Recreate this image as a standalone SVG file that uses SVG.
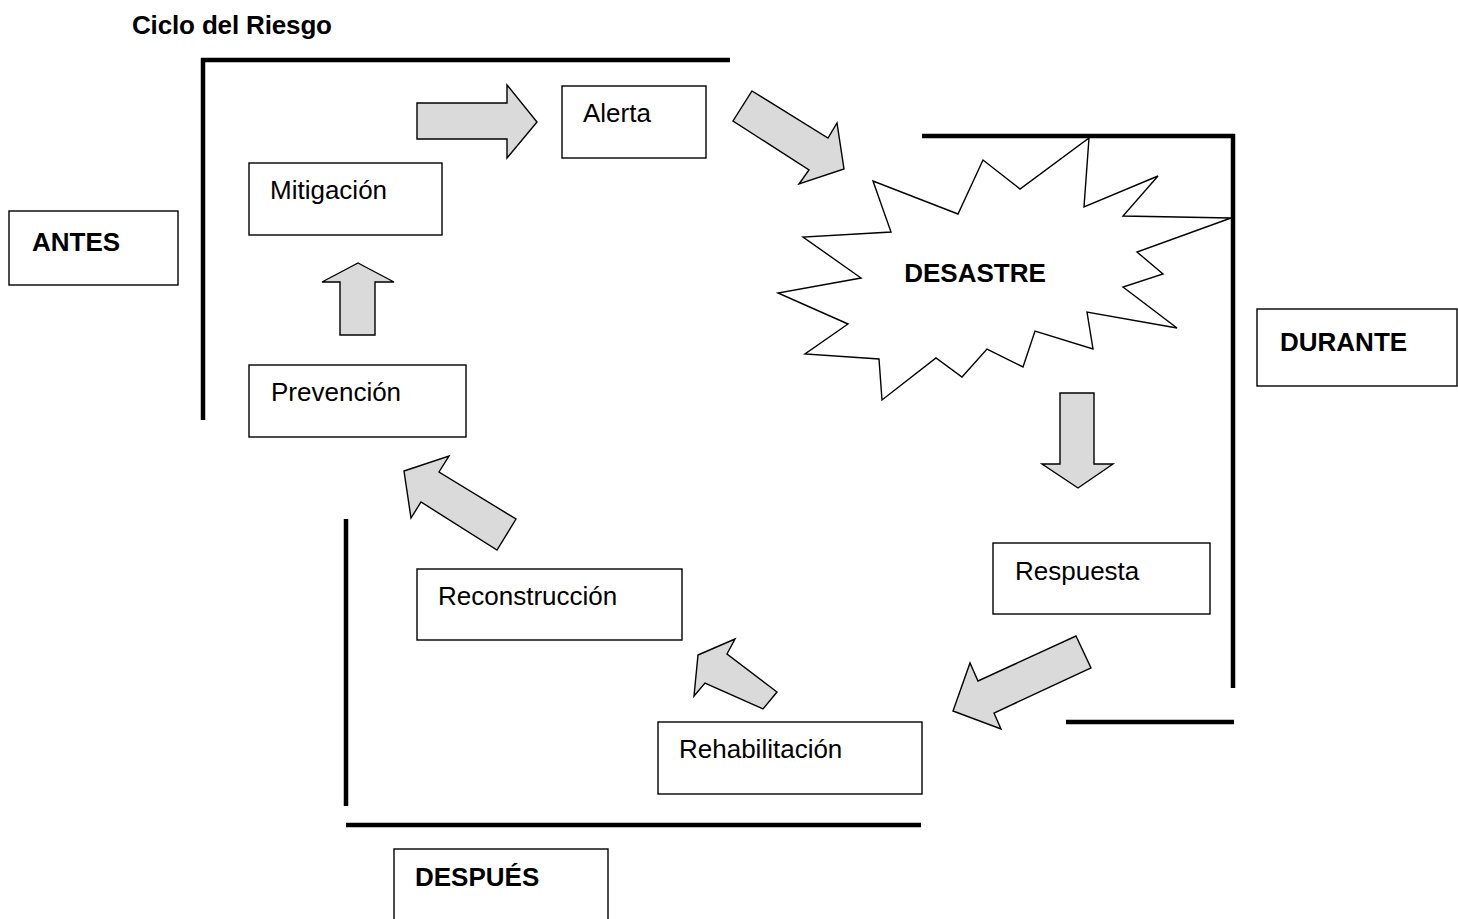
<svg xmlns="http://www.w3.org/2000/svg" width="1458" height="919" viewBox="0 0 1458 919">
<style>
.box{fill:#fff;stroke:#000;stroke-width:1.4}
.lbl{font-family:"Liberation Sans",Arial,sans-serif;font-size:26px;fill:#000}
.bold{font-weight:bold}
.arr{fill:#dadada;stroke:#000;stroke-width:1.4;stroke-linejoin:miter}
.br{stroke:#000;stroke-width:4.5;fill:none}
</style>
<rect width="1458" height="919" fill="#fff"/>
<text x="132" y="34" class="lbl bold" textLength="200">Ciclo del Riesgo</text>
<g id="brackets">
<path class="br" d="M201 60 H730 M203 58 V420"/>
<path class="br" d="M922 136 H1235 M1233 134 V688 M1066 722 H1234"/>
<path class="br" d="M346 519 V806 M346 825 H921"/>
</g>
<g id="antes"><rect class="box" x="9" y="211" width="169" height="74"/><text class="lbl bold" x="32" y="251">ANTES</text></g>
<g id="durante"><rect class="box" x="1257" y="309" width="200" height="77"/><text class="lbl bold" x="1280" y="351">DURANTE</text></g>
<g id="despues"><rect class="box" x="394" y="849" width="214" height="80"/><text class="lbl bold" x="415" y="886">DESPUÉS</text></g>
<g id="alerta"><rect class="box" x="562" y="86" width="144" height="72"/><text class="lbl" x="583" y="122">Alerta</text></g>
<g id="mitigacion"><rect class="box" x="249" y="163" width="193" height="72"/><text class="lbl" x="270" y="199">Mitigación</text></g>
<g id="prevencion"><rect class="box" x="249" y="365" width="217" height="72"/><text class="lbl" x="271" y="401">Prevención</text></g>
<g id="reconstruccion"><rect class="box" x="417" y="569" width="265" height="71"/><text class="lbl" x="438" y="605">Reconstrucción</text></g>
<g id="rehabilitacion"><rect class="box" x="658" y="722" width="264" height="72"/><text class="lbl" x="679" y="758">Rehabilitación</text></g>
<g id="respuesta"><rect class="box" x="993" y="543" width="217" height="71"/><text class="lbl" x="1015" y="580">Respuesta</text></g>
<g id="desastre">
<polygon fill="#fff" stroke="#000" stroke-width="1.4" points="873,181 891,232 803,237 861,278 778,293 848,324 805,354 879,359 882,400 936,358 962,377 987,349 1023,367 1035,331 1093,349 1087,312 1177,328 1123,287 1163,274 1137,252 1231,218 1123,216 1158,176 1084,207 1089,138 1020,189 983,160 958,214"/>
<text class="lbl bold" x="975" y="282" text-anchor="middle">DESASTRE</text>
</g>
<g id="connectors">
<polygon class="arr" points="358,263 394,282 375,282 375,335 340,335 340,282 322,282"/>
<polygon class="arr" points="417,103 507,103 507,85 537,122 507,158 507,139 417,139"/>
<polygon class="arr" points="752,91 828,138 837,123 844,169 799,184 809,170 733,121"/>
<polygon class="arr" points="1060,393 1094,393 1094,464 1113,464 1078,488 1042,464 1060,464"/>
<polygon class="arr" points="1076,636 1091,668 994,713 1001,729 953,711 970,663 978,681"/>
<polygon class="arr" points="698,655 735,639 727,654 777,692 763,709 705,683 694,696"/>
<polygon class="arr" points="404,471 449,456 439,472 516,519 497,550 421,502 411,518"/>
</g>
</svg>
